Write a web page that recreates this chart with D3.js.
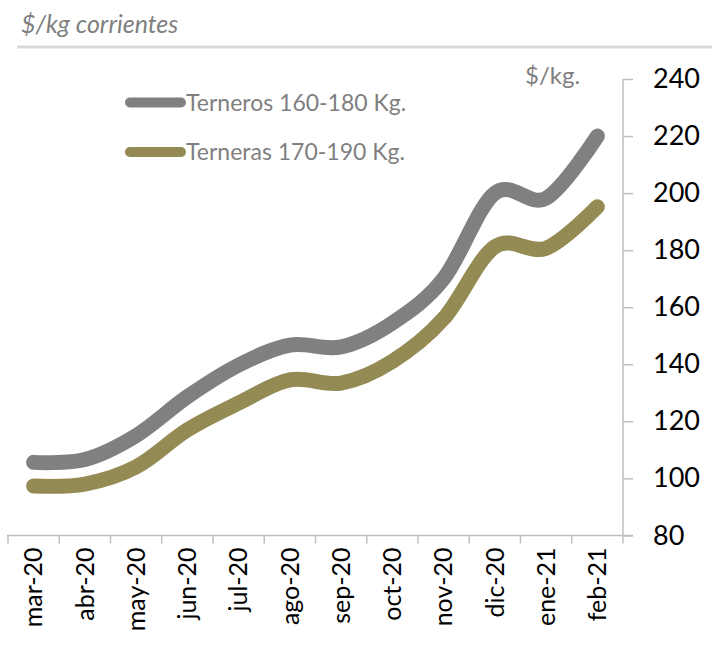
<!DOCTYPE html>
<html>
<head>
<meta charset="utf-8">
<script src="https://cdn.jsdelivr.net/npm/d3@7"></script>
<style>
  body { margin: 0; background: #fff; }
  svg { display: block; font-family: Lato, "Open Sans", sans-serif; }
</style>
</head>
<body>
<div id="chart"></div>
<script>
// months on the x axis
const categories = ["mar-20","abr-20","may-20","jun-20","jul-20","ago-20","sep-20","oct-20","nov-20","dic-20","ene-21","feb-21"];
// $/kg values
const terneros = [105.6, 106.6, 115, 128.6, 139.7, 146.7, 146.1, 154.5, 170, 200, 198.2, 220];
const terneras = [97.3, 98, 104, 117, 126.4, 134.5, 133.4, 141, 156, 181.2, 180.7, 195.2];
const yTicks = [80, 100, 120, 140, 160, 180, 200, 220, 240];
const seriesNames = ["Terneros 160-180 Kg.", "Terneras 170-190 Kg."];

var width = 712
var height = 671
var colors = ["#808080", "#948a54"]

var svg = d3.select("#chart")
  .append("svg")
    .attr("width", width)
    .attr("height", height)

// title + rule under it
svg.append("text")
  .attr("x", 21)
  .attr("y", 33)
  .style("font-size", "25px")
  .style("font-style", "italic")
  .style("fill", "#7f7f7f")
  .text("$/kg corrientes")

svg.append("line")
  .attr("x1", 17).attr("x2", width)
  .attr("y1", 47).attr("y2", 47)
  .attr("stroke", "#d9d9d9")
  .attr("stroke-width", 3)

var x = d3.scaleBand().domain(categories).range([8, 623])
var y = d3.scaleLinear().domain([80, 240]).range([535.4, 79])

// y axis on the right
var yAxis = svg.append("g")
  .attr("transform", "translate(623,0)")
  .call(d3.axisRight(y).tickValues(yTicks).tickSize(10).tickPadding(20))
  .attr("font-family", null)
  .attr("font-size", null)
yAxis.select(".domain").attr("stroke", "#bfbfbf").attr("stroke-width", 1.5).attr("d", "M0,79V535.4")
yAxis.selectAll(".tick line").attr("stroke", "#bfbfbf").attr("stroke-width", 1.5)
yAxis.selectAll(".tick text")
  .style("font-size", "27px")
  .style("fill", "#000")

svg.append("text")
  .attr("x", 525)
  .attr("y", 84)
  .style("font-size", "24px")
  .style("fill", "#7f7f7f")
  .text("$/kg.")

// x axis along the bottom, ticks between months
var xAxis = svg.append("g")
  .attr("transform", "translate(0,535.4)")
  .call(d3.axisBottom(x).tickSize(0).tickPadding(0))
  .attr("font-family", null)
  .attr("font-size", null)
xAxis.select(".domain").remove()
xAxis.append("line")
  .attr("x1", 7).attr("x2", 633)
  .attr("stroke", "#bfbfbf").attr("stroke-width", 1.5)
xAxis.selectAll(".sep")
  .data(d3.range(categories.length + 1))
  .enter().append("line")
    .attr("class", "sep")
    .attr("x1", function(i) { return 8 + i * x.step(); })
    .attr("x2", function(i) { return 8 + i * x.step(); })
    .attr("y1", 0).attr("y2", 8)
    .attr("stroke", "#bfbfbf").attr("stroke-width", 1.5)
xAxis.selectAll(".tick text")
  .style("font-size", "25px")
  .style("fill", "#000")
  .attr("transform", "rotate(-90)")
  .attr("x", -12)
  .attr("y", 0)
  .attr("dy", "0.35em")
  .style("text-anchor", "end")

// smoothed lines like excel
var line = d3.line()
  .x(function(d, i) { return x(categories[i]) + x.bandwidth() / 2; })
  .y(function(d) { return y(d); })
  .curve(d3.curveCatmullRom.alpha(0))

var allSeries = [terneros, terneras]
svg.selectAll(".serie")
  .data(allSeries)
  .enter().append("path")
    .attr("class", "serie")
    .attr("d", line)
    .attr("fill", "none")
    .attr("stroke", function(d, i) { return colors[i]; })
    .attr("stroke-width", 15)
    .attr("stroke-linecap", "round")
    .attr("stroke-linejoin", "round")

// legend
var leg = svg.selectAll(".leg")
  .data(seriesNames)
  .enter().append("g")
    .attr("class", "leg")
    .attr("transform", function(d, i) { return "translate(0," + (102.5 + i * 49.5) + ")"; })

leg.append("line")
  .attr("x1", 130).attr("x2", 181)
  .attr("stroke", function(d, i) { return colors[i]; })
  .attr("stroke-width", 10)
  .attr("stroke-linecap", "round")

leg.append("text")
  .attr("x", 186)
  .attr("y", 8)
  .style("font-size", "23px")
  .style("fill", "#7f7f7f")
  .text(function(d) { return d; })
</script>
</body>
</html>
